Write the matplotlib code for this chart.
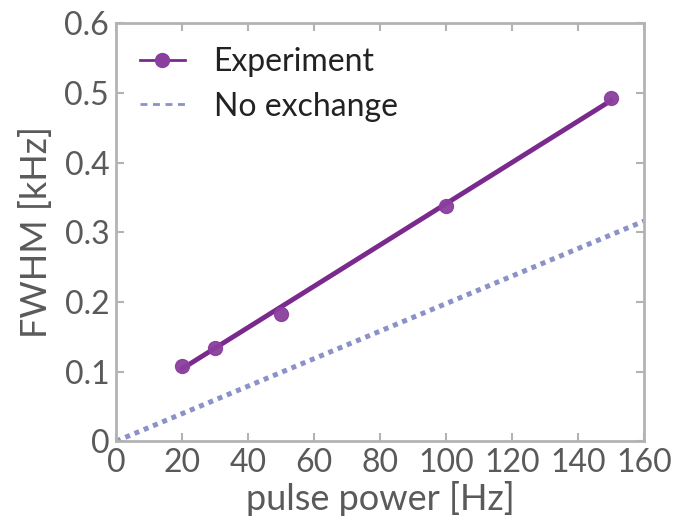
import matplotlib
matplotlib.use("Agg")
import matplotlib.pyplot as plt

# data
power = [20, 30, 50, 100, 150]
fwhm = [0.108, 0.134, 0.183, 0.338, 0.493]
fit_x = [20, 150]
fit_y = [0.104, 0.489]
noex_x = [0, 160]
noex_y = [0, 0.316]

xticks = [0, 20, 40, 60, 80, 100, 120, 140, 160]
yticks = [0, 0.1, 0.2, 0.3, 0.4, 0.5, 0.6]
yticklabels = ["0", "0.1", "0.2", "0.3", "0.4", "0.5", "0.6"]

plt.rcParams['font.family'] = ['Lato', 'DejaVu Sans']

purple = "#7a2a8c"
dot_col = "#8a92c8"
grey_txt = "#5a5a5a"
spine_col = "#b3b3b3"

fig = plt.figure(figsize=(6.75, 5.29), dpi=100)
ax = fig.add_axes([0.172, 0.166, 0.782, 0.790])

noex, = ax.plot(noex_x, noex_y, linestyle=(0, (1, 1)), linewidth=3.6, color=dot_col,
                dash_capstyle='butt', zorder=2)
ax.plot(fit_x, fit_y, '-', linewidth=3.5, color=purple, zorder=3)
ax.plot(power, fwhm, 'o', markersize=10, color="#8a3f9e", alpha=0.95, zorder=4)
# legend proxies
exp_proxy, = ax.plot([], [], '-o', linewidth=2, markersize=10, color=purple,
                     markerfacecolor="#8a3f9e", markeredgecolor="#8a3f9e")
noex_proxy, = ax.plot([], [], linestyle=(0, (2.5, 2)), linewidth=2, color=dot_col)

leg = ax.legend([exp_proxy, noex_proxy], ["Experiment", "No exchange"],
                loc="upper left", frameon=False, fontsize=23,
                handlelength=1.4, handletextpad=0.9, labelspacing=0.45,
                borderaxespad=0.35)
for t in leg.get_texts():
    t.set_color("#222222")

ax.set_xlim(0, 160)
ax.set_ylim(0, 0.6)
ax.set_xticks(xticks)
ax.set_yticks(yticks)
ax.set_yticklabels(yticklabels)

for s in ax.spines.values():
    s.set_color(spine_col)
    s.set_linewidth(2)
ax.tick_params(axis='both', direction='in', length=6, width=1.5, color=spine_col,
               labelsize=23, labelcolor=grey_txt, top=True, right=True, pad=5)

ax.set_xlabel("pulse power [Hz]", fontsize=26, color=grey_txt, labelpad=2)
ax.set_ylabel("FWHM [kHz]", fontsize=26, color=grey_txt, labelpad=8)

plt.savefig("out.png", dpi=100)
